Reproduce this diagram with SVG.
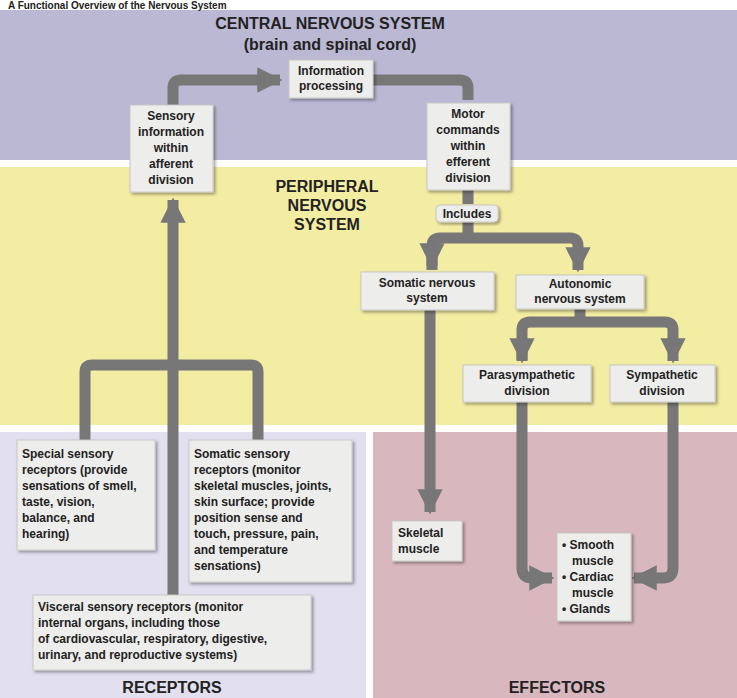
<svg xmlns="http://www.w3.org/2000/svg" width="737" height="698" viewBox="0 0 737 698">
<style>
.b{fill:#ededeb;stroke:#c8c8c8;stroke-width:1;filter:url(#sh)}
.t{font-family:"Liberation Sans",Arial,sans-serif;font-weight:bold;font-size:12px;fill:#222}
.c{text-anchor:middle}
.h{font-family:"Liberation Sans",Arial,sans-serif;font-weight:bold;font-size:16px;fill:#222;text-anchor:middle}
.a{fill:none;stroke:#777;stroke-width:11;stroke-linejoin:round}
</style>
<defs>
<filter id="sh" x="-10%" y="-10%" width="130%" height="130%"><feDropShadow dx="2" dy="2" stdDeviation="1.5" flood-color="#000" flood-opacity="0.35"/></filter>
<marker id="ar" viewBox="0 0 10 10" refX="9" refY="5" markerWidth="2.3" markerHeight="2.3" orient="auto" markerUnits="strokeWidth"><path d="M0,0L10,5L0,10z" fill="#777"/></marker>
</defs>
<rect width="737" height="698" fill="#fff"/>
<rect x="0" y="10" width="737" height="150" fill="#bbb8d4"/>
<rect x="0" y="167" width="737" height="258" fill="#f3eca3"/>
<rect x="0" y="432" width="366" height="266" fill="#e2e0ee"/>
<rect x="373" y="432" width="364" height="266" fill="#d8b8be"/>
<text x="8" y="9" style="font-family:'Liberation Sans',Arial,sans-serif;font-weight:bold;font-size:10px;fill:#222">A Functional Overview of the Nervous System</text>
<text class="h" x="330" y="29">CENTRAL NERVOUS SYSTEM</text>
<text class="h" x="330" y="50">(brain and spinal cord)</text>
<text class="h" x="327" y="192">PERIPHERAL</text>
<text class="h" x="327" y="211">NERVOUS</text>
<text class="h" x="327" y="230">SYSTEM</text>
<text class="h" x="172" y="693">RECEPTORS</text>
<text class="h" x="557" y="693">EFFECTORS</text>
<g id="connectors">
<path class="a" d="M173,598V200" marker-end="url(#ar)"/>
<path class="a" d="M85,445V372Q85,365 92,365H251Q258,365 258,372V445"/>
<path class="a" d="M173,106V88Q173,80 181,80H280" marker-end="url(#ar)"/>
<path class="a" d="M372,80H460Q468,80 468,88V100"/>
<path class="a" d="M468,190V204"/>
<path class="a" d="M468,222V238"/>
<path class="a" d="M432,270V246Q432,238 440,238H570Q578,238 578,246V270" marker-end="url(#ar)"/>
<path class="a" d="M432,246V266" marker-end="url(#ar)"/>
<path class="a" d="M430,310V512" marker-end="url(#ar)"/>
<path class="a" d="M580,308V322"/>
<path class="a" d="M522,360V330Q522,322 530,322H665Q673,322 673,330V361" marker-end="url(#ar)"/>
<path class="a" d="M522,340V361" marker-end="url(#ar)"/>
<path class="a" d="M522,402V568Q522,578 532,578H552" marker-end="url(#ar)"/>
<path class="a" d="M673,402V568Q673,578 663,578H634" marker-end="url(#ar)"/>
</g>
<g id="info"><rect class="b" x="289" y="60" width="84" height="38"/><text class="t c" x="331" y="75">Information</text><text class="t c" x="331" y="90">processing</text></g>
<g id="sensory"><rect class="b" x="130" y="105" width="83" height="87"/><text class="t c" x="171" y="120">Sensory</text><text class="t c" x="171" y="136">information</text><text class="t c" x="171" y="152">within</text><text class="t c" x="171" y="168">afferent</text><text class="t c" x="171" y="184">division</text></g>
<g id="motor"><rect class="b" x="427" y="103" width="83" height="87"/><text class="t c" x="468" y="118">Motor</text><text class="t c" x="468" y="134">commands</text><text class="t c" x="468" y="150">within</text><text class="t c" x="468" y="166">efferent</text><text class="t c" x="468" y="182">division</text></g>
<g id="includes"><rect class="b" x="436" y="205" width="62" height="17" rx="4"/><text class="t c" x="467" y="218">Includes</text></g>
<g id="somatic"><rect class="b" x="361" y="272" width="133" height="38"/><text class="t c" x="427" y="287">Somatic nervous</text><text class="t c" x="427" y="302">system</text></g>
<g id="autonomic"><rect class="b" x="516" y="275" width="128" height="34"/><text class="t c" x="580" y="288">Autonomic</text><text class="t c" x="580" y="303">nervous system</text></g>
<g id="para"><rect class="b" x="463" y="365" width="128" height="37"/><text class="t c" x="527" y="379">Parasympathetic</text><text class="t c" x="527" y="395">division</text></g>
<g id="symp"><rect class="b" x="610" y="365" width="105" height="37"/><text class="t c" x="662" y="379">Sympathetic</text><text class="t c" x="662" y="395">division</text></g>
<g id="special"><rect class="b" x="17" y="440" width="138" height="110"/><text class="t" x="22" y="458">Special sensory</text><text class="t" x="22" y="474">receptors (provide</text><text class="t" x="22" y="490">sensations of smell,</text><text class="t" x="22" y="506">taste, vision,</text><text class="t" x="22" y="522">balance, and</text><text class="t" x="22" y="538">hearing)</text></g>
<g id="somrec"><rect class="b" x="189" y="440" width="163" height="142"/><text class="t" x="194" y="458">Somatic sensory</text><text class="t" x="194" y="474">receptors (monitor</text><text class="t" x="194" y="490">skeletal muscles, joints,</text><text class="t" x="194" y="506">skin surface; provide</text><text class="t" x="194" y="522">position sense and</text><text class="t" x="194" y="538">touch, pressure, pain,</text><text class="t" x="194" y="554">and temperature</text><text class="t" x="194" y="570">sensations)</text></g>
<g id="visceral"><rect class="b" x="33" y="595" width="278" height="75"/><text class="t" x="38" y="611">Visceral sensory receptors (monitor</text><text class="t" x="38" y="627">internal organs, including those</text><text class="t" x="38" y="643">of cardiovascular, respiratory, digestive,</text><text class="t" x="38" y="659">urinary, and reproductive systems)</text></g>
<g id="skeletal"><rect class="b" x="392" y="521" width="70" height="40"/><text class="t" x="398" y="537">Skeletal</text><text class="t" x="398" y="553">muscle</text></g>
<g id="smooth"><rect class="b" x="557" y="533" width="74" height="88"/><text class="t" x="562" y="549">• Smooth</text><text class="t" x="572" y="565">muscle</text><text class="t" x="562" y="581">• Cardiac</text><text class="t" x="572" y="597">muscle</text><text class="t" x="562" y="613">• Glands</text></g>
</svg>
